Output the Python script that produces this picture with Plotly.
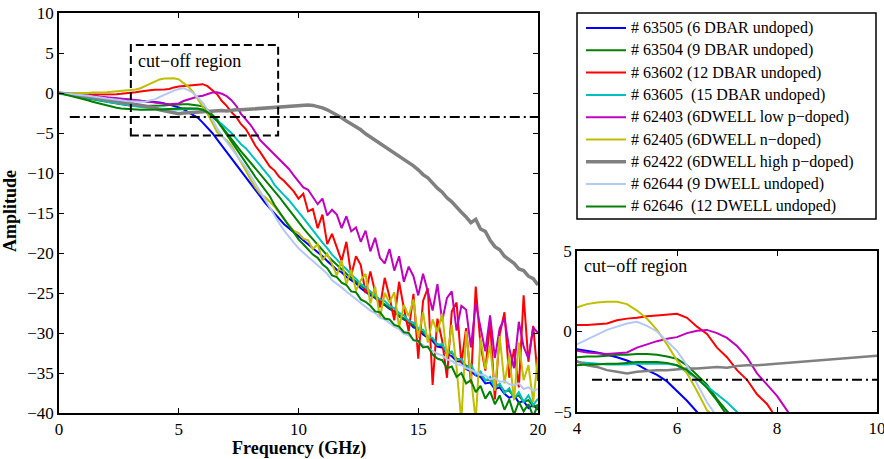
import numpy as np
import plotly.graph_objects as go

# ---------------- data ----------------
FREQ = np.round(np.arange(0, 20.0001, 0.2), 1)  # GHz, 0.2 GHz sampling

LABELS = [
    "# 63505 (6 DBAR undoped)",
    "# 63504 (9 DBAR undoped)",
    "# 63602 (12 DBAR undoped)",
    "# 63605 \u00a0(15 DBAR undoped)",
    "# 62403 (6DWELL low p\u2212doped)",
    "# 62405 (6DWELL n\u2212doped)",
    "# 62422 (6DWELL high p\u2212doped)",
    "# 62644 (9 DWELL undoped)",
    "# 62646 \u00a0(12 DWELL undoped)",
]
COLORS = ["#0000FF", "#008000", "#FF0000", "#00BFBF", "#BF00BF",
          "#BFBF00", "#808080", "#B4C8F5", "#008000"]
WIDTHS = [2, 2, 2, 2, 2, 2, 3.5, 2, 2]

S63505 = [0, -0.05, -0.1, -0.2, -0.25,
          -0.3, -0.35, -0.4, -0.45, -0.55,
          -0.6, -0.65, -0.7, -0.8, -0.85,
          -0.9, -0.95, -1.0, -1.0, -1.05,
          -1.1, -1.2, -1.3, -1.45, -1.6,
          -1.8, -2.05, -2.4, -2.7, -3.1,
          -3.7, -4.3, -5.0, -5.8, -6.6,
          -7.4, -8.2, -9.0, -9.8, -10.6,
          -11.4, -12.2, -13.0, -13.7, -14.4,
          -15.1, -15.8, -16.4, -16.9, -17.4,
          -17.9, -18.4, -18.8, -19.3, -19.8,
          -20.4, -21.0, -21.5, -22.1, -22.4,
          -23.0, -23.4, -23.8, -24.4, -24.9,
          -25.3, -25.6, -26.2, -26.5, -27.0,
          -27.3, -27.9, -28.3, -28.6, -29.3,
          -29.5, -30.2, -30.6, -31.0, -31.7,
          -31.8, -32.6, -32.9, -33.5, -33.6,
          -34.5, -34.8, -35.3, -35.5, -36.3,
          -36.2, -37.0, -36.8, -37.6, -38.1,
          -37.8, -38.7, -38.5, -39.4, -39.0,
          -39.6]

S63504 = [0, -0.1, -0.25, -0.35, -0.45,
          -0.6, -0.7, -0.85, -0.95, -1.05,
          -1.15, -1.25, -1.35, -1.4, -1.5,
          -1.55, -1.6, -1.6, -1.65, -1.6,
          -1.6, -1.55, -1.55, -1.5, -1.45,
          -1.45, -1.4, -1.4, -1.45, -1.55,
          -1.7, -2.1, -2.7, -3.3, -4.2,
          -5.0, -5.8, -6.6, -7.3, -8.0,
          -8.7, -9.4, -10.1, -10.8, -11.5,
          -12.3, -13.0, -13.8, -14.6, -15.4,
          -16.2, -16.9, -17.6, -18.3, -19.0,
          -19.6, -20.3, -20.9, -21.5, -22.0,
          -22.6, -23.1, -23.6, -24.1, -24.6,
          -25.1, -25.5, -26.0, -26.4, -26.9,
          -27.3, -27.8, -28.2, -28.7, -29.0,
          -29.6, -29.9, -30.5, -30.8, -31.4,
          -31.6, -32.3, -32.5, -33.2, -33.4,
          -34.1, -34.3, -35.0, -35.1, -35.9,
          -35.8, -36.6, -36.5, -37.3, -37.2,
          -38.0, -37.8, -38.6, -38.4, -39.2,
          -39.0]

S63602 = [0, 0.0, -0.05, -0.1, -0.1,
          -0.15, -0.15, -0.2, -0.2, -0.2,
          -0.2, -0.2, -0.15, -0.1, -0.05,
          0.0, 0.1, 0.2, 0.3, 0.35,
          0.4, 0.4, 0.45, 0.5, 0.7,
          0.8, 0.85, 0.95, 1.0, 1.05,
          1.1, 0.85, 0.3, -0.15, -1.0,
          -1.6, -2.4, -3.0, -3.9, -4.5,
          -5.5, -6.6, -7.4, -8.3, -9.2,
          -9.7, -10.5, -11.0, -11.7, -12.3,
          -13.2, -12.6, -14.8, -14.5, -16.9,
          -15.2, -18.9, -17.6, -19.3, -21.0,
          -18.6, -22.8, -20.4, -21.5, -25.0,
          -22.3, -24.9, -26.8, -23.1, -25.5,
          -28.4, -23.6, -26.9, -29.8, -25.1,
          -33.2, -26.0, -24.4, -36.5, -28.2,
          -31.0, -35.6, -27.3, -26.2, -33.8,
          -29.4, -36.3, -24.2, -31.5, -34.7,
          -28.6, -38.3, -30.2, -27.4, -35.6,
          -32.0, -36.8, -25.3, -33.6, -29.1,
          -36.0]

S63605 = [0, -0.1, -0.2, -0.3, -0.4,
          -0.5, -0.6, -0.75, -0.85, -0.95,
          -1.1, -1.2, -1.3, -1.4, -1.5,
          -1.6, -1.7, -1.75, -1.8, -1.85,
          -1.9, -1.95, -2.0, -2.05, -2.05,
          -2.05, -2.0, -2.0, -2.0, -2.0,
          -2.1, -2.5, -2.95, -3.4, -3.9,
          -4.4, -5.0, -5.7, -6.4, -6.9,
          -7.6, -8.4, -9.1, -9.8, -10.5,
          -11.5, -12.2, -12.8, -13.4, -14.1,
          -14.8, -15.6, -16.4, -17.2, -17.9,
          -18.7, -19.4, -20.2, -20.8, -21.5,
          -22.0, -22.7, -23.2, -23.9, -24.3,
          -24.8, -25.2, -25.8, -26.0, -26.6,
          -26.9, -27.5, -27.8, -28.5, -28.7,
          -29.4, -29.6, -30.5, -30.6, -31.5,
          -31.4, -32.5, -32.3, -33.4, -33.2,
          -34.4, -33.9, -35.2, -34.8, -36.0,
          -35.5, -36.9, -36.3, -37.5, -36.9,
          -38.2, -37.4, -38.6, -37.8, -39.0,
          -38.2]

S62403 = [0, -0.05, -0.1, -0.15, -0.2,
          -0.25, -0.3, -0.35, -0.4, -0.45,
          -0.55, -0.6, -0.65, -0.7, -0.75,
          -0.8, -0.9, -0.95, -1.05, -1.1,
          -1.2, -1.3, -1.35, -1.4, -1.35,
          -1.3, -1.0, -0.8, -0.6, -0.45,
          -0.35, -0.1, 0.05, 0.1, -0.1,
          -0.4, -0.9, -1.6, -2.6, -3.3,
          -4.0, -4.9, -5.9, -6.5, -7.1,
          -7.8, -8.3, -9.0, -9.5, -10.3,
          -11.0, -11.8, -12.1, -13.0, -13.9,
          -13.2, -15.3, -14.6, -15.2, -16.9,
          -15.4, -17.3, -16.8, -18.6, -17.2,
          -19.8, -18.1, -20.6, -21.3, -19.5,
          -22.2, -20.4, -23.6, -21.7, -22.9,
          -25.3, -22.6, -24.8, -27.2, -23.9,
          -28.5, -25.6, -24.8, -29.7, -26.6,
          -27.1, -31.8, -26.3, -29.4, -32.3,
          -27.8, -33.1, -29.4, -28.2, -31.9,
          -34.4, -28.6, -31.7, -33.2, -29.3,
          -30.0]

S62405 = [0, 0.0, -0.05, -0.05, -0.05,
          0.0, 0.0, 0.05, 0.05, 0.1,
          0.1, 0.15, 0.2, 0.25, 0.3,
          0.35, 0.45, 0.6, 0.9, 1.2,
          1.5, 1.7, 1.8, 1.85, 1.85,
          1.7, 1.3, 0.8, 0.1, -0.8,
          -1.8, -2.6, -3.7, -4.9, -5.4,
          -5.9, -6.6, -7.6, -8.6, -9.7,
          -10.8, -11.8, -12.6, -13.0, -13.6,
          -14.2, -15.0, -15.8, -16.5, -17.2,
          -17.5, -18.2, -18.4, -19.5, -18.9,
          -20.9, -20.1, -21.4, -22.8, -20.9,
          -23.9, -22.1, -24.7, -23.4, -22.6,
          -26.3, -24.2, -28.1, -25.0, -26.2,
          -24.9, -29.3, -26.5, -27.9, -25.8,
          -30.6, -27.4, -31.2, -28.3, -29.9,
          -27.6, -33.1, -29.0, -34.3, -41.0,
          -29.8, -35.9, -41.0, -30.6, -34.5,
          -31.6, -37.2, -30.4, -36.3, -32.8,
          -38.4, -31.2, -35.9, -34.0, -38.6,
          -33.0]

S62422 = [0, -0.1, -0.15, -0.25, -0.3,
          -0.4, -0.45, -0.55, -0.6, -0.7,
          -0.8, -0.85, -0.95, -1.05, -1.15,
          -1.3, -1.4, -1.5, -1.6, -1.7,
          -1.85, -2.1, -2.2, -2.4, -2.5,
          -2.6, -2.5, -2.45, -2.4, -2.4,
          -2.35, -2.3, -2.3, -2.25, -2.2,
          -2.25, -2.15, -2.1, -2.1, -2.05,
          -2.0, -1.95, -1.9, -1.85, -1.8,
          -1.75, -1.7, -1.65, -1.6, -1.55,
          -1.5, -1.45, -1.5, -1.55, -1.65,
          -1.85, -2.1, -2.4, -2.75, -3.1,
          -3.5, -3.85, -4.2, -4.6, -5.1,
          -5.5, -5.8, -6.3, -6.6, -7.1,
          -7.4, -7.9, -8.2, -8.7, -9.1,
          -9.6, -10.2, -10.6, -11.3, -11.9,
          -12.4, -13.1, -13.6, -14.3, -14.9,
          -15.5, -16.2, -15.8, -17.0, -17.3,
          -18.4, -19.2, -19.6, -20.4, -20.8,
          -21.3, -22.0, -22.2, -22.9, -23.2,
          -24.0]

S62644 = [0, -0.05, -0.1, -0.15, -0.2,
          -0.3, -0.35, -0.45, -0.5, -0.6,
          -0.7, -0.75, -0.85, -0.9, -1.0,
          -1.05, -1.1, -1.1, -1.05, -0.95,
          -0.8, -0.5, -0.2, 0.1, 0.3,
          0.5, 0.6, 0.35, 0.0, -0.6,
          -1.2, -2.1, -3.3, -4.4, -5.3,
          -6.1, -6.9, -7.6, -8.5, -9.3,
          -10.3, -11.3, -12.4, -13.4, -14.4,
          -15.4, -16.3, -17.2, -18.0, -18.7,
          -19.4, -20.0, -20.5, -21.0, -21.5,
          -22.1, -22.6, -23.4, -23.8, -24.3,
          -24.8, -25.3, -25.7, -26.3, -26.8,
          -27.2, -27.5, -28.1, -28.3, -28.8,
          -29.2, -29.5, -30.1, -30.3, -30.9,
          -31.1, -31.5, -31.8, -32.2, -32.6,
          -32.8, -33.3, -33.5, -33.9, -34.0,
          -34.4, -34.6, -34.9, -35.2, -35.3,
          -35.8, -35.6, -36.1, -36.0, -36.4,
          -36.5, -36.3, -37.0, -36.8, -37.2,
          -37.0]

S62646 = [0, -0.15, -0.3, -0.45, -0.55,
          -0.75, -0.9, -1.1, -1.25, -1.45,
          -1.6, -1.75, -1.85, -1.95, -2.0,
          -2.05, -2.1, -2.1, -2.1, -2.1,
          -2.1, -2.05, -2.05, -2.0, -2.0,
          -1.95, -1.9, -1.9, -1.9, -1.95,
          -2.1, -2.4, -2.9, -3.5, -4.3,
          -5.2, -6.0, -6.9, -7.8, -8.7,
          -9.6, -10.5, -11.3, -12.1, -12.9,
          -14.0, -14.9, -15.8, -16.6, -17.4,
          -18.3, -18.9, -19.6, -20.2, -20.6,
          -21.4, -21.9, -22.8, -23.0, -23.7,
          -24.0, -24.8, -24.9, -25.8, -26.1,
          -26.6, -27.3, -27.4, -28.2, -28.3,
          -29.0, -29.2, -29.9, -30.0, -30.9,
          -31.0, -31.8, -31.7, -32.7, -33.2,
          -33.4, -34.4, -34.2, -35.5, -35.0,
          -36.3, -35.9, -37.4, -36.6, -38.2,
          -37.3, -38.9, -37.8, -39.6, -38.3,
          -40.2, -38.6, -39.8, -38.9, -40.4,
          -39.0]

SERIES = [S63505, S63504, S63602, S63605, S62403,
          S62405, S62422, S62644, S62646]

X_TICKS = [0, 5, 10, 15, 20]
Y_TICKS = [-40, -35, -30, -25, -20, -15, -10, -5, 0, 5, 10]
X2_TICKS = [4, 6, 8, 10]
Y2_TICKS = [-5, 0, 5]
THRESHOLD = -3
CUTOFF_BOX = dict(x0=3.0, x1=9.15, y0=-5.3, y1=6.0)

# ---------------- layout helpers (pixels -> paper) ----------------
W, H = 884, 459
FONT = "Liberation Serif, Times New Roman, Times, DejaVu Serif, serif"


def px(p):
    return p / W


def py(p):
    return 1 - p / H


fig = go.Figure()
for vals, lab, col, w in zip(SERIES, LABELS, COLORS, WIDTHS):
    assert len(vals) == len(FREQ)
    fig.add_trace(go.Scatter(x=FREQ, y=vals, mode="lines", name=lab,
                             line=dict(color=col, width=w),
                             xaxis="x", yaxis="y", showlegend=False))
for vals, lab, col, w in zip(SERIES, LABELS, COLORS, WIDTHS):
    fig.add_trace(go.Scatter(x=FREQ, y=vals, mode="lines", name=lab,
                             line=dict(color=col, width=min(w, 2.5)),
                             xaxis="x2", yaxis="y2", showlegend=False))

axis_common = dict(showline=True, linecolor="#000", linewidth=1.5,
                   mirror="allticks", ticks="inside", ticklen=5,
                   tickwidth=1, tickcolor="#000", showgrid=False,
                   zeroline=False, automargin=False,
                   ticklabeloverflow="allow",
                   tickfont=dict(family=FONT, size=17, color="#000"))

fig.update_layout(
    template="none",
    width=W, height=H,
    margin=dict(l=0, r=0, t=0, b=0, pad=0),
    font=dict(family=FONT, size=17, color="#000"),
    paper_bgcolor="white", plot_bgcolor="white",
    showlegend=False,
    xaxis=dict(domain=[px(59), px(538)], range=[0, 20], tickvals=X_TICKS,
               anchor="y", **axis_common),
    yaxis=dict(domain=[py(413), py(13)], range=[-40, 10], tickvals=Y_TICKS,
               anchor="x", **axis_common),
    xaxis2=dict(domain=[px(577), px(877)], range=[4, 10], tickvals=X2_TICKS,
                anchor="y2", **axis_common),
    yaxis2=dict(domain=[py(412), py(251)], range=[-5, 5], tickvals=Y2_TICKS,
                anchor="x2", **axis_common),
)

shapes = []
annotations = []

# cut-off box and -3 dB lines
shapes.append(dict(type="rect", xref="x", yref="y", **CUTOFF_BOX,
                   line=dict(color="#000", width=2, dash="8px,4px")))
shapes.append(dict(type="line", xref="x", yref="y", x0=0.45, x1=20,
                   y0=THRESHOLD, y1=THRESHOLD,
                   line=dict(color="#000", width=2, dash="10px,4px,2px,4px")))
shapes.append(dict(type="line", xref="x2", yref="y2", x0=4.3, x1=10,
                   y0=THRESHOLD, y1=THRESHOLD,
                   line=dict(color="#000", width=2, dash="10px,4px,2px,4px")))

annotations.append(dict(text="cut\u2212off region", xref="x", yref="y",
                        x=3.2, y=4.0, xanchor="left", yanchor="middle",
                        showarrow=False, font=dict(family=FONT, size=18, color="#000")))
annotations.append(dict(text="cut\u2212off region", xref="x2", yref="y2",
                        x=4.1, y=4.05, xanchor="left", yanchor="middle",
                        showarrow=False, font=dict(family=FONT, size=18, color="#000")))

# axis titles
annotations.append(dict(text="<b>Frequency (GHz)</b>", xref="paper", yref="paper",
                        x=px(298.5), y=py(448), xanchor="center", yanchor="middle",
                        showarrow=False, font=dict(family=FONT, size=18, color="#000")))
annotations.append(dict(text="<b>Amplitude</b>", xref="paper", yref="paper",
                        x=px(10), y=py(211), xanchor="center", yanchor="middle",
                        textangle=-90, showarrow=False,
                        font=dict(family=FONT, size=18, color="#000")))

# legend box (drawn manually to match spacing)
LEG_L, LEG_T, LEG_R, LEG_B = 577, 13, 876, 219
ROW0, ROW_STEP = 28, 22.3
shapes.append(dict(type="rect", xref="paper", yref="paper",
                   x0=px(LEG_L), x1=px(LEG_R), y0=py(LEG_B), y1=py(LEG_T),
                   line=dict(color="#000", width=1.5), fillcolor="white",
                   layer="below"))
for i, (lab, col, w) in enumerate(zip(LABELS, COLORS, WIDTHS)):
    yy = ROW0 + ROW_STEP * i
    shapes.append(dict(type="line", xref="paper", yref="paper",
                       x0=px(586), x1=px(626), y0=py(yy), y1=py(yy),
                       line=dict(color=col, width=w)))
    annotations.append(dict(text=lab, xref="paper", yref="paper",
                            x=px(629), y=py(yy), xanchor="left", yanchor="middle",
                            showarrow=False,
                            font=dict(family=FONT, size=16, color="#000")))

fig.update_layout(shapes=shapes, annotations=annotations)
fig.write_html("out.html")
